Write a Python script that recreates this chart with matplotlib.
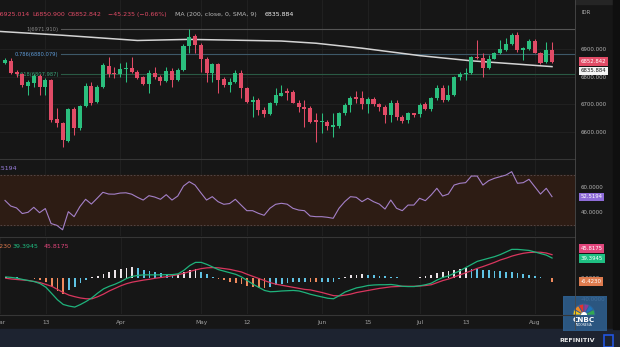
import numpy as np
import matplotlib.pyplot as plt
from matplotlib.patches import Rectangle, Wedge

# candle data (daily)
opens = [6848, 6857, 6817, 6809, 6767, 6775, 6802, 6763, 6787, 6644,
         6630, 6567, 6681, 6612, 6693, 6765, 6708, 6763, 6838, 6812,
         6808, 6826, 6832, 6817, 6797, 6773, 6812, 6799, 6785, 6820,
         6787, 6824, 6912, 6947, 6915, 6864, 6812, 6844, 6790, 6769,
         6781, 6814, 6757, 6708, 6714, 6680, 6664, 6702, 6729, 6748,
         6745, 6705, 6690, 6684, 6641, 6633, 6636, 6618, 6620, 6666,
         6696, 6726, 6721, 6700, 6717, 6700, 6688, 6660, 6705, 6654,
         6642, 6666, 6664, 6699, 6681, 6721, 6757, 6715, 6733, 6797,
         6809, 6812, 6870, 6866, 6830, 6862, 6884, 6896, 6918, 6951,
         6896, 6899, 6930, 6887, 6854, 6898.08]
highs = [6867, 6866, 6824, 6814, 6787, 6808, 6808, 6793, 6790, 6684,
         6636, 6684, 6688, 6696, 6777, 6780, 6769, 6850, 6872, 6836,
         6848, 6854, 6872, 6824, 6802, 6824, 6836, 6805, 6836, 6830,
         6830, 6918, 6971.91, 6955, 6921, 6870, 6848, 6850, 6799, 6793,
         6824, 6824, 6763, 6729, 6721, 6688, 6708, 6757, 6769, 6757,
         6751, 6715, 6715, 6693, 6666, 6666, 6642, 6666, 6672, 6702,
         6729, 6748, 6748, 6724, 6727, 6705, 6696, 6715, 6715, 6660,
         6672, 6668, 6702, 6708, 6727, 6769, 6769, 6769, 6802, 6818,
         6830, 6875, 6933, 6884, 6878, 6890, 6933, 6939, 6957, 6963,
         6908, 6935, 6935, 6890, 6927, 6925.01]
lows = [6844, 6809, 6799, 6763, 6733, 6763, 6733, 6733, 6636, 6617,
        6543, 6563, 6587, 6605, 6688, 6696, 6705, 6757, 6799, 6793,
        6799, 6781, 6812, 6790, 6769, 6739, 6790, 6769, 6781, 6763,
        6785, 6821, 6884, 6884, 6818, 6781, 6781, 6739, 6763, 6745,
        6775, 6721, 6702, 6654, 6660, 6654, 6660, 6696, 6729, 6715,
        6702, 6672, 6617, 6630, 6563, 6593, 6605, 6581, 6612, 6660,
        6672, 6702, 6681, 6666, 6693, 6676, 6630, 6636, 6642, 6630,
        6630, 6654, 6654, 6678, 6676, 6715, 6708, 6712, 6729, 6787,
        6787, 6808, 6862, 6797, 6826, 6862, 6881, 6894, 6915, 6890,
        6860, 6896, 6884, 6845, 6848, 6850.90]
closes = [6860, 6814, 6809, 6769, 6779, 6802, 6763, 6787, 6642, 6630,
          6569, 6681, 6612, 6693, 6765, 6705, 6763, 6842, 6809, 6808,
          6826, 6832, 6817, 6793, 6773, 6812, 6799, 6785, 6820, 6787,
          6824, 6911, 6945, 6915, 6862, 6812, 6844, 6787, 6769, 6781,
          6814, 6757, 6708, 6714, 6678, 6664, 6702, 6733, 6739, 6739,
          6705, 6688, 6681, 6636, 6636, 6637, 6620, 6624, 6666, 6696,
          6723, 6720, 6700, 6717, 6700, 6688, 6660, 6705, 6654, 6639,
          6666, 6660, 6696, 6681, 6721, 6757, 6715, 6733, 6797, 6809,
          6814, 6870, 6866, 6830, 6862, 6884, 6899, 6918, 6951, 6896,
          6903, 6930, 6887, 6850, 6898, 6852.842]

# MA 200 sampled at a few candles
ma_idx = [-1, 10, 23, 32, 48, 54, 62, 72, 81, 89, 95]
ma_val = [6964, 6950, 6931, 6935, 6929, 6921, 6903, 6876, 6857, 6845, 6835.884]

fib_levels = [1.0, 0.786, 0.618]
fib_prices = [6971.910, 6880.079, 6807.987]
fib_anchor = 10

rsi = [49.5, 45, 43.5, 39, 40, 44, 39.7, 43, 31, 29.6,
       26, 40.5, 36.5, 44.5, 50.4, 46.6, 51.2, 56, 54.6, 54.5,
       55.4, 55.6, 54.5, 52, 49.8, 53.3, 52.2, 50.4, 54.1, 49.8,
       53, 61, 64.5, 61.8, 55.7, 49.8, 52.5, 48.5, 46.4, 47,
       50.4, 45.8, 41.3, 41.3, 39.2, 37.6, 43.2, 46.4, 47.2, 46.5,
       43.2, 41.8, 41.3, 37, 36.5, 36.5, 36, 35.2, 43.2, 48.5,
       52.5, 52, 48.5, 51.2, 48.5, 46.6, 42.6, 49.8, 43.2, 41.3,
       45.8, 45.8, 51.2, 49.3, 53.8, 59.2, 53, 54.6, 61.8, 63.2,
       63.7, 69, 69, 61.8, 65.3, 67.2, 68.5, 69.8, 72.5, 63.2,
       63.7, 66.4, 60.5, 54.6, 59.2, 52.5194]

macd = [3, 2, 0.5, -2, -4, -6, -10, -17, -29, -41,
        -50, -53, -55, -50, -44, -37, -28, -20, -15, -11,
        -6, 0, 4, 6, 7, 7, 7, 7, 7.5, 7.5,
        9, 16, 25, 31, 31, 27, 22, 17, 14, 11,
        8, 3, -4, -11, -17, -23, -25.5, -25, -24, -23.5,
        -23, -24, -27, -30.4, -33, -35.5, -38, -39, -33, -26,
        -22, -18, -16, -13.5, -12.5, -12, -12, -11.5, -13, -15,
        -15.5, -15.5, -14, -12, -9, -3, 2, 5, 10, 15,
        21, 27, 33, 36, 39, 42, 46, 51, 56, 56,
        55, 54, 51, 48, 45, 39.3945]
signal = [0.5, -1, -2, -3, -4, -6, -8, -11.5, -15, -21,
          -27, -32, -35, -37.5, -39, -39, -35, -30, -24, -19,
          -14, -10, -7, -5, -3, -1.5, 0.5, 2, 3.5, 5.5,
          7.5, 10, 13.5, 16.5, 19, 20.5, 21, 20.5, 19, 17.5,
          15, 12.5, 8, 4, 0, -4, -8, -11, -13, -15,
          -17, -19, -21, -22, -24.5, -27, -30, -33, -33.5, -32,
          -30, -27, -25, -23, -21, -19, -17.5, -16, -15.5, -15,
          -15, -15, -14.5, -13.5, -12, -8, -4, -1, 3, 7,
          11, 15, 19.5, 23, 27, 31, 35.6, 39, 43, 46,
          48.5, 50, 50.5, 50.5, 49, 45.8175]
hist = [3, 3, 2.5, 1.5, 0.5, -1, -3, -6, -16, -25,
        -29, -22, -17, -9, -3, 2, 5, 9, 13, 16,
        19, 21, 22, 20, 17, 15, 13, 11, 9, 7,
        8, 13, 17, 19, 13, 8, 3, -1, -3, -6,
        -8, -11, -14, -17, -18, -19, -16, -13, -11, -9,
        -7, -6, -6, -6.5, -7, -7, -6.5, -6, -1, 3,
        6, 7, 8, 7, 6, 5, 4, 3, 2, 1.5,
        1, 1.5, 3, 5, 7, 10, 12, 14, 16, 18,
        19.5, 19, 18, 17, 16, 15, 14, 13, 12, 10.5,
        8.5, 6.5, 4.5, 2, 0.5, -6.423]

date_idx = [-1, 7, 20, 34, 42, 55, 63, 72, 80, 92]
date_labels = ['Mar', '13', 'Apr', 'May', '12', 'Jun', '15', 'Jul', '13', 'Aug']

W, H = 620, 347
BG = '#161616'
GREEN = '#2bbf7e'
RED = '#e14b66'
GRID = '#222222'

fig = plt.figure(figsize=(6.2, 3.47), dpi=100)
fig.patch.set_facecolor(BG)


def fx(px):
    return px / W


def fy(py):
    return 1 - py / H


XR = 575
xlim = (-5 / 5.758, (XR - 5) / 5.758)

ax = fig.add_axes([0, fy(159), XR / W, 159 / H])
rsi_ax = fig.add_axes([0, fy(236), XR / W, 76 / H])
macd_ax = fig.add_axes([0, fy(314), XR / W, 76 / H])

for a in (ax, rsi_ax, macd_ax):
    a.set_facecolor(BG)
    a.set_xlim(*xlim)
    for s in a.spines.values():
        s.set_visible(False)
    a.yaxis.tick_right()
    a.tick_params(axis='y', length=0, pad=4.3, labelsize=3.9, labelcolor='#b5b5b5')
    a.tick_params(axis='x', length=0)
    for d in date_idx:
        a.axvline(d, color=GRID, lw=0.6, zorder=0)
    a.set_xticks([])

# ---- main price panel
ax.set_ylim(6500, 7078.2)
ax.set_yticks([6600, 6700, 6800, 6900])
ax.set_yticklabels(['%.3f' % v for v in [6600, 6700, 6800, 6900]])
for v in [6600, 6700, 6800, 6900]:
    ax.axhline(v, color=GRID, lw=0.6, zorder=0)

fib_line_colors = ['#555555', '#3d5868', '#2a5a44']
fib_text_colors = ['#8a8a8a', '#5d9ad6', '#3aa57a']
for lev, p, lc, tc in zip(fib_levels, fib_prices, fib_line_colors, fib_text_colors):
    ax.plot([fib_anchor - 0.3, xlim[1]], [p, p], color=lc, lw=0.8, zorder=1)
    lab = ('%g' % lev) + '(%.3f)' % p
    ax.text(fib_anchor - 0.7, p, lab, color=tc, fontsize=3.7, ha='right', va='center', zorder=1)

o = np.array(opens)
hgh = np.array(highs)
low = np.array(lows)
c = np.array(closes)
idx = np.arange(len(o))
cols = np.where(c >= o, GREEN, RED)
ax.vlines(idx, low, hgh, colors=cols, lw=0.75, zorder=3)
ax.bar(idx, np.maximum(np.abs(c - o), 1.5), bottom=np.minimum(o, c), width=0.7,
       color=cols, linewidth=0, zorder=4)

ax.plot(ma_idx, ma_val, color='#d4d4d4', lw=1.1, zorder=2)

# ---- RSI panel
rsi_ax.set_ylim(21.04, 81.84)
rsi_ax.set_yticks([40, 60])
rsi_ax.set_yticklabels(['40.0000', '60.0000'])
rsi_ax.axhspan(30, 70, color='#2d1c14', zorder=0)
for v in (30, 70):
    rsi_ax.axhline(v, color='#5a4d4d', lw=0.6, ls=(0, (2, 2)), zorder=1)
rsi_ax.plot(idx, rsi, color='#a480c8', lw=0.8, zorder=3)

# ---- MACD panel
macd_ax.set_ylim(-68.3, 77.9)
macd_ax.set_yticks([-40, 0, 40])
macd_ax.set_yticklabels(['-40.0000', '0.0000', '40.0000'])
hcol = []
for i, v in enumerate(hist):
    prev = hist[i - 1] if i > 0 else v
    if v >= 0:
        hcol.append('#ece4e8' if v >= prev else '#5fc3e4')
    else:
        hcol.append('#f08a5d' if v < prev else '#5fc3e4')
macd_ax.bar(idx, hist, width=0.28, color=hcol, linewidth=0, zorder=2)
macd_ax.plot(idx, signal, color='#d9365e', lw=0.9, zorder=3)
macd_ax.plot(idx, macd, color='#1fb37c', lw=0.9, zorder=4)
macd_ax.set_xticks(date_idx)
macd_ax.set_xticklabels(date_labels)
macd_ax.tick_params(axis='x', length=0, pad=4.5, labelsize=4.2, labelcolor='#a0a0a0')

# ---- frame lines and strips
fig.add_artist(Rectangle((0, fy(4)), 1, 4 / H, color='#252525', transform=fig.transFigure, zorder=0))
for py in (159.5, 237, 314.5):
    fig.add_artist(plt.Line2D([0, fx(XR)], [fy(py), fy(py)], color='#363636', lw=0.8))
fig.add_artist(plt.Line2D([fx(XR), fx(XR)], [fy(329), 1], color='#4a4a4a', lw=0.6))
fig.add_artist(Rectangle((0, 0), 1, fy(329), color='#1d2330', transform=fig.transFigure, zorder=0))
fig.add_artist(Rectangle((fx(613), fy(329)), 1, 1, color='#0f0f0f', transform=fig.transFigure, zorder=0))


def box_label(px, py, text, fc, tc):
    fig.text(fx(px), fy(py), text, fontsize=3.9, color=tc, ha='left', va='center',
             bbox=dict(boxstyle='square,pad=0.35', fc=fc, ec='none'), zorder=6)


fig.text(fx(581), fy(13), 'IDR', fontsize=3.9, color='#b0b0b0', ha='left', va='center')
box_label(580.5, 61.5, '6852.842', RED, 'white')
box_label(580.5, 71, '6835.884', '#f4f4f4', '#161616')
box_label(580.5, 197, '52.5194', '#8e6cd8', 'white')
box_label(580.5, 248.5, '45.8175', '#e0457b', 'white')
box_label(580.5, 258.5, '39.3945', '#1fbf82', 'white')
box_label(580.5, 281.5, '-6.4230', '#df7b4e', 'white')

# ---- header legends
hdr_y = fy(14.5)
fig.text(fx(-5), hdr_y, 'H6925.014', fontsize=4.5, color=RED, va='center')
fig.text(fx(32), hdr_y, 'L6850.900', fontsize=4.5, color=RED, va='center')
fig.text(fx(68), hdr_y, 'C6852.842', fontsize=4.5, color=RED, va='center')
fig.text(fx(108), hdr_y, '\u221245.235 (\u22120.66%)', fontsize=4.5, color=RED, va='center')
fig.text(fx(175), hdr_y, 'MA (200, close, 0, SMA, 9)', fontsize=4.5, color='#b8b8b8', va='center')
fig.text(fx(265), hdr_y, '6835.884', fontsize=4.5, color='#f0f0f0', va='center')
fig.text(fx(-8), fy(168.5), '52.5194', fontsize=4.5, color='#9b7fe0', va='center')
fig.text(fx(-15.5), fy(246), '\u22126.4230', fontsize=4.5, color='#df7b4e', va='center')
fig.text(fx(13), fy(246), '39.3945', fontsize=4.5, color='#1fbf82', va='center')
fig.text(fx(44), fy(246), '45.8175', fontsize=4.5, color='#e0457b', va='center')

# ---- CNBC logo and Refinitiv credit
lg = fig.add_axes([fx(563), fy(331), 44 / W, 35 / H])
lg.set_xlim(0, 44)
lg.set_ylim(35, 0)
lg.axis('off')
lg.add_patch(Rectangle((0, 0), 44, 35, color='#2f6294', alpha=0.85))
feathers = ['#f5c518', '#f08a24', '#e5322d', '#8e3d97', '#1b75bc', '#33a852']
for k, fc in enumerate(feathers):
    lg.add_patch(Wedge((21, 19), 11, 180 + k * 30, 180 + (k + 1) * 30, fc=fc, ec='#2f6294', lw=0.6))
lg.add_patch(Wedge((21, 19), 3, 180, 360, fc='white', ec='none'))
lg.text(21, 24.5, 'CNBC', color='white', fontsize=5.2, fontweight='bold', ha='center', va='center')
lg.text(21, 29.5, 'INDONESIA', color='white', fontsize=2.2, ha='center', va='center')

fig.text(fx(577), fy(340.5), 'REFINITIV', fontsize=4.6, fontweight='bold', color='#e8e8e8',
         ha='center', va='center')
fig.add_artist(Rectangle((fx(604), fy(347)), 9 / W, 12 / H, fill=False, ec='#2155e0', lw=1.2,
                         transform=fig.transFigure))

fig.savefig('out.png', dpi=100, facecolor=BG)
